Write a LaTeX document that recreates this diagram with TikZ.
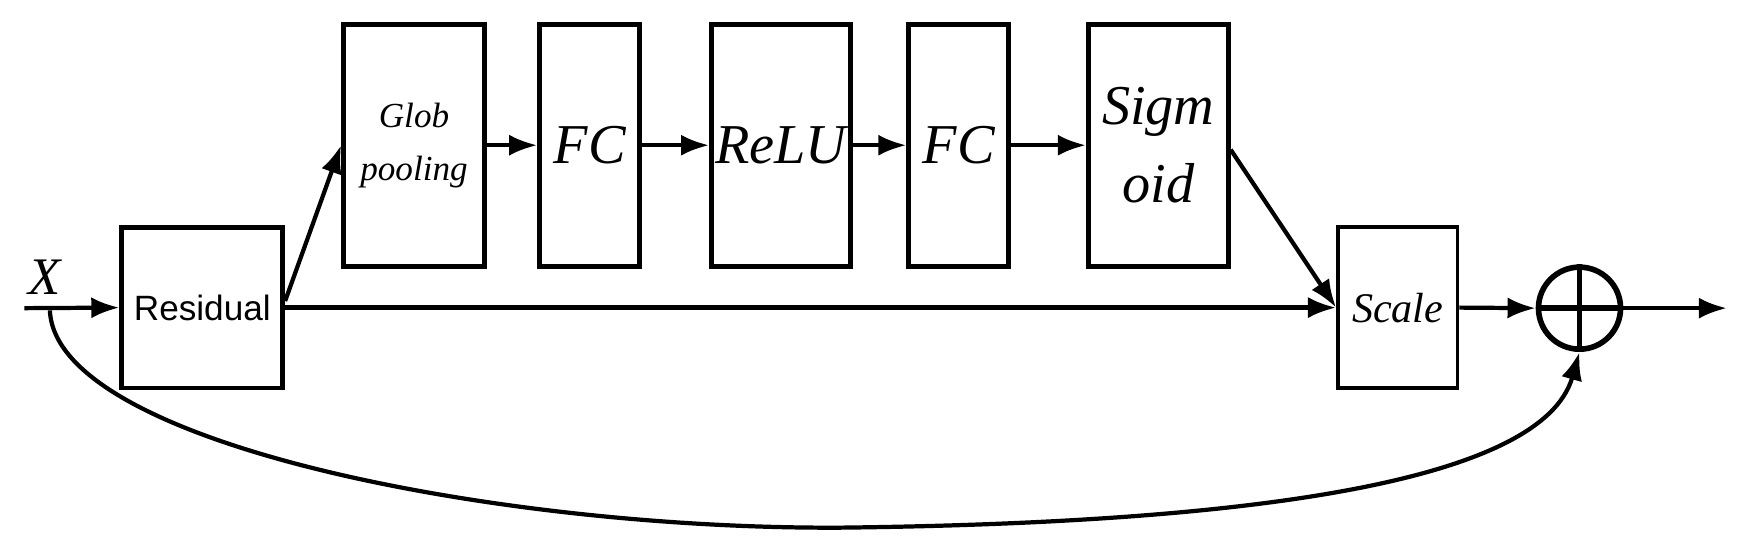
\documentclass[tikz,border=0pt]{standalone}
\usepackage{fontspec}
\setmainfont{Liberation Serif}
\newfontfamily\sansf{Liberation Sans}
\usetikzlibrary{arrows.meta}
\begin{document}
\begin{tikzpicture}[x=0.011084cm,y=-0.011084cm,line width=1.2pt,
  box/.style={draw,line width=1.4pt,inner sep=0pt,align=center,font=\itshape\fontsize{16}{18}\selectfont},
  arr/.style={-{Latex[length=8pt,width=6pt]}}]
\useasboundingbox (0,0) rectangle (1568,503);
\node[box,minimum width=1.607cm,minimum height=1.607cm,font=\sansf\fontsize{10}{12}\selectfont] (res) at (182.5,277.5) {Residual};
\node[box,minimum width=1.408cm,minimum height=2.416cm,font=\itshape\fontsize{10}{15}\selectfont] (gp) at (373.5,131) {Glob\\pooling};
\node[box,minimum width=0.998cm,minimum height=2.416cm] (fc1) at (532,131) {FC};
\node[box,minimum width=1.385cm,minimum height=2.416cm] (relu) at (704.5,131) {ReLU};
\node[box,minimum width=0.998cm,minimum height=2.416cm] (fc2) at (865,131) {FC};
\node[box,minimum width=1.397cm,minimum height=2.416cm,font=\itshape\fontsize{16}{22}\selectfont] (sig) at (1045,131) {Sigm\\oid};
\node[box,line width=1pt,minimum width=1.197cm,minimum height=1.607cm,font=\itshape\fontsize{12}{14}\selectfont] (sc) at (1261,277.5) {Scale};
\node[draw,circle,line width=1.6pt,minimum size=0.82cm,inner sep=0pt] (sum) at (1425,278) {};
\draw[line width=1.6pt] (sum.north) -- (sum.south) (sum.west) -- (sum.east);
\node[font=\itshape\fontsize{15}{17}\selectfont] (x) at (40,250) {X};
\coordinate (in) at (22,278);
\coordinate (out) at (1558,278);
\draw[arr] (in) -- (res.west);
\draw[arr] (res.east) -- (sc.west);
\draw[arr] (res.east) ++(0,-6) -- (gp.west);
\draw[arr] (gp.east) -- (fc1.west);
\draw[arr] (fc1.east) -- (relu.west);
\draw[arr] (relu.east) -- (fc2.west);
\draw[arr] (fc2.east) -- (sig.west);
\draw[arr] (sig.east) ++(0,4) -- (sc.west);
\draw[arr] (sc.east) -- (sum.west);
\draw[arr] (sum.east) -- (out);
\draw[arr] (45,280) .. controls (50,400) and (450,478) .. (760,476) .. controls (1100,472) and (1390,440) .. (sum.south);
\end{tikzpicture}
\end{document}
